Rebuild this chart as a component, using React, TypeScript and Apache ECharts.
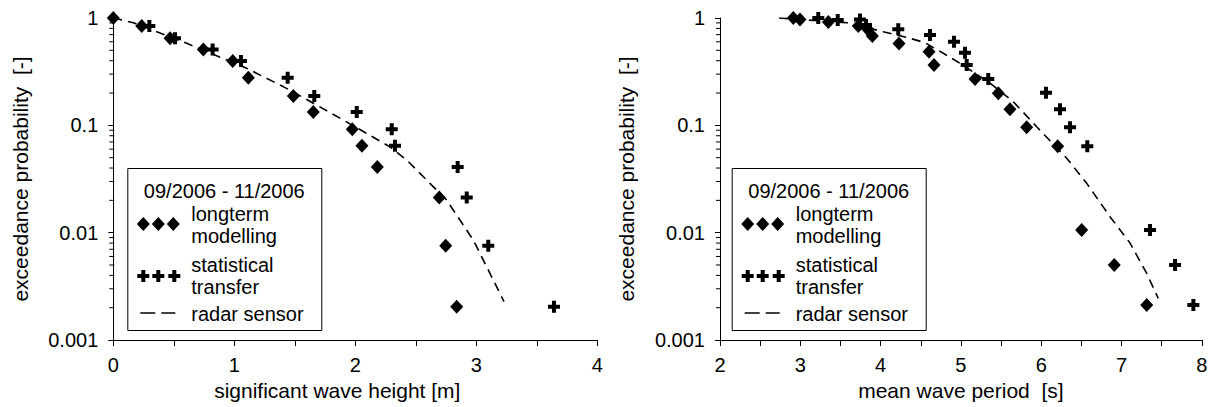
import React, { useEffect, useRef } from "react";
import * as echarts from "echarts";

// ---- data ----
const leftDiamondX = [0, 0.235, 0.469, 0.744, 0.987, 1.116, 1.488, 1.653, 1.975, 2.055, 2.182, 2.694, 2.747, 2.838];
const leftDiamondP = [1, 0.842, 0.647, 0.51, 0.398, 0.278, 0.1875, 0.133, 0.092, 0.0646, 0.041, 0.0213, 0.00756, 0.00204];
const leftCrossX = [0.298, 0.51, 0.821, 1.055, 1.441, 1.661, 2.012, 2.301, 2.328, 2.846, 2.921, 3.099, 3.642];
const leftCrossP = [0.842, 0.647, 0.51, 0.398, 0.278, 0.1875, 0.133, 0.092, 0.0646, 0.041, 0.0213, 0.00756, 0.00204];
const leftRadarX = [0, 0.165, 0.607, 1.102, 1.46, 1.901, 2.287, 2.425, 2.617, 2.755, 2.975, 3.229];
const leftRadarP = [1, 0.904, 0.581, 0.34, 0.213, 0.112, 0.063, 0.0475, 0.0288, 0.0201, 0.00855, 0.00228];

const rightDiamondX = [2.913, 2.996, 3.349, 3.722, 3.839, 3.897, 4.229, 4.603, 4.665, 5.176, 5.466, 5.611, 5.819, 6.205, 6.504, 6.91, 7.314];
const rightDiamondP = [1, 0.97, 0.92, 0.842, 0.785, 0.68, 0.58, 0.485, 0.365, 0.27, 0.199, 0.141, 0.096, 0.064, 0.0106, 0.005, 0.00212];
const rightCrossX = [3.224, 3.466, 3.743, 3.818, 4.22, 4.615, 4.914, 5.051, 5.072, 5.341, 6.06, 6.234, 6.359, 6.574, 7.355, 7.667, 7.895];
const rightCrossP = [1, 0.96, 0.97, 0.86, 0.785, 0.695, 0.6, 0.475, 0.365, 0.27, 0.201, 0.141, 0.096, 0.064, 0.0106, 0.005, 0.00212];
const rightRadarX = [2.735, 3.578, 4.034, 4.325, 4.553, 4.781, 4.989, 5.362, 5.653, 5.944, 6.318, 6.567, 6.857, 7.106, 7.314, 7.458];
const rightRadarP = [1, 0.904, 0.745, 0.66, 0.589, 0.469, 0.378, 0.247, 0.166, 0.097, 0.0493, 0.0288, 0.0141, 0.008, 0.00417, 0.00244];

const yTickVals = [0.001, 0.01, 0.1, 1];
const yTickLabels = ["0.001", "0.01", "0.1", "1"];
const yMinorMultipliers = [2, 3, 4, 5, 6, 7, 8, 9];
const leftXTicks = [0, 1, 2, 3, 4];
const rightXTicks = [2, 3, 4, 5, 6, 7, 8];

const legendTitle = "09/2006 - 11/2006";
const legendNames = [["longterm", "modelling"], ["statistical", "transfer"], ["radar sensor"]];
const xNames = ["significant wave height [m]", "mean wave period  [s]"];
const yName = "exceedance probability  [-]";

const FONT = "'Liberation Sans', Arial, sans-serif";
const FS = 20;
const FS_NAME = 21;

const pair = (xs: number[], ys: number[]) => xs.map((x, i) => [x, ys[i]]);

const minorVals: number[] = [];
yTickVals.slice(0, 3).forEach((d) => yMinorMultipliers.forEach((m) => minorVals.push(d * m)));

const PLUS = "path://M4,0H8V4H12V8H8V12H4V8H0V4H4Z";

function legendGroup(x0: number) {
  const top = 168;
  const txt = (x: number, y: number, text: string, align = "left") => ({
    type: "text",
    x,
    y,
    style: { text, fontSize: FS, fontFamily: FONT, fill: "#000", align, verticalAlign: "middle" },
  });
  const dia = (cx: number, cy: number) => ({
    type: "polygon",
    shape: { points: [[cx, cy - 7], [cx + 6.5, cy], [cx, cy + 7], [cx - 6.5, cy]] },
    style: { fill: "#000" },
  });
  const plus = (cx: number, cy: number) => ({
    type: "polygon",
    shape: {
      points: [
        [cx - 2, cy - 6], [cx + 2, cy - 6], [cx + 2, cy - 2], [cx + 6, cy - 2], [cx + 6, cy + 2], [cx + 2, cy + 2],
        [cx + 2, cy + 6], [cx - 2, cy + 6], [cx - 2, cy + 2], [cx - 6, cy + 2], [cx - 6, cy - 2], [cx - 2, cy - 2],
      ],
    },
    style: { fill: "#000" },
  });
  const tx = x0 + 64;
  return {
    type: "group",
    children: [
      { type: "rect", shape: { x: x0 + 0.5, y: top + 0.5, width: 194, height: 162 }, style: { fill: "#fff", stroke: "#000", lineWidth: 1 } },
      txt(x0 + 97, 191, legendTitle, "center"),
      dia(x0 + 16, 224), dia(x0 + 31, 224), dia(x0 + 46, 224),
      txt(tx, 214, legendNames[0][0]), txt(tx, 236, legendNames[0][1]),
      plus(x0 + 16, 276), plus(x0 + 31, 276), plus(x0 + 47, 276),
      txt(tx, 265, legendNames[1][0]), txt(tx, 287, legendNames[1][1]),
      { type: "line", shape: { x1: x0 + 13, y1: 313, x2: x0 + 28, y2: 313 }, style: { stroke: "#000", lineWidth: 1.5 } },
      { type: "line", shape: { x1: x0 + 34, y1: 313, x2: x0 + 48, y2: 313 }, style: { stroke: "#000", lineWidth: 1.5 } },
      txt(tx, 314, legendNames[2][0]),
    ],
  };
}

export default function App() {
  const ref = useRef<HTMLDivElement>(null);
  useEffect(() => {
    if (!ref.current) return;
    const chart = echarts.init(ref.current, undefined, { renderer: "svg" });
    const axisLine = { lineStyle: { color: "#000", width: 1 } };
    const xAxis = (gi: number, min: number, max: number, ticks: number[], shift: number) => ({
      type: "value",
      gridIndex: gi,
      min,
      max,
      interval: 0.5,
      name: xNames[gi],
      nameLocation: "middle",
      nameGap: 33,
      nameTextStyle: {
        fontSize: FS_NAME,
        fontFamily: FONT,
        color: "#000",
        padding: shift > 0 ? [0, shift, 0, 0] : 0,
      },
      axisLine,
      axisTick: { show: true, length: 6, inside: false, lineStyle: { color: "#000" } },
      axisLabel: {
        fontSize: FS,
        fontFamily: FONT,
        color: "#000",
        margin: 15,
        formatter: (v: number) => (ticks.indexOf(v) >= 0 ? String(v) : ""),
      },
      splitLine: { show: false },
    });
    const yAxis = (gi: number, gap: number) => ({
      type: "log",
      logBase: 10,
      gridIndex: gi,
      min: 0.001,
      max: 1,
      splitNumber: 3,
      name: yName,
      nameLocation: "middle",
      nameGap: gap,
      nameTextStyle: { fontSize: FS_NAME, fontFamily: FONT, color: "#000" },
      axisLine,
      axisTick: { show: true, length: 5, inside: false, lineStyle: { color: "#000" } },
      axisLabel: {
        fontSize: FS,
        fontFamily: FONT,
        color: "#000",
        margin: 15,
        formatter: (v: number) => {
          const i = yTickVals.findIndex((t) => Math.abs(Math.log10(t) - Math.log10(v)) < 1e-6);
          return i >= 0 ? yTickLabels[i] : "";
        },
      },
      splitLine: { show: false },
    });
    const minorSeries = (gi: number, xMin: number) => ({
      type: "custom",
      xAxisIndex: gi,
      yAxisIndex: gi,
      clip: false,
      silent: true,
      data: minorVals.map((v) => [xMin, v]),
      renderItem: (params: any, api: any) => {
        const p = api.coord([api.value(0), api.value(1)]);
        return {
          type: "line",
          shape: { x1: p[0] - 4, y1: p[1], x2: p[0] + 1, y2: p[1] },
          style: { stroke: "#000", lineWidth: 1 },
        };
      },
    });
    const dataSeries = (gi: number, dX: number[], dP: number[], cX: number[], cP: number[], rX: number[], rP: number[]) => [
      {
        type: "line",
        xAxisIndex: gi,
        yAxisIndex: gi,
        data: pair(rX, rP),
        showSymbol: false,
        symbol: "none",
        lineStyle: { color: "#000", width: 1.6, type: [9, 6] },
        z: 2,
      },
      {
        type: "scatter",
        xAxisIndex: gi,
        yAxisIndex: gi,
        data: pair(dX, dP),
        symbol: "diamond",
        symbolSize: [13, 14],
        itemStyle: { color: "#000", opacity: 1 },
        z: 3,
      },
      {
        type: "scatter",
        xAxisIndex: gi,
        yAxisIndex: gi,
        data: pair(cX, cP),
        symbol: PLUS,
        symbolSize: 12,
        itemStyle: { color: "#000", opacity: 1 },
        z: 3,
      },
    ];
    chart.setOption({
      animation: false,
      backgroundColor: "#fff",
      textStyle: { fontFamily: FONT },
      grid: [
        { left: 113.3, top: 18, width: 484, height: 322 },
        { left: 720, top: 18, width: 481.8, height: 322 },
      ],
      xAxis: [xAxis(0, 0, 4, leftXTicks, 36), xAxis(1, 2, 8, rightXTicks, 0)],
      yAxis: [yAxis(0, 82), yAxis(1, 83)],
      series: [
        minorSeries(0, 0),
        minorSeries(1, 2),
        ...dataSeries(0, leftDiamondX, leftDiamondP, leftCrossX, leftCrossP, leftRadarX, leftRadarP),
        ...dataSeries(1, rightDiamondX, rightDiamondP, rightCrossX, rightCrossP, rightRadarX, rightRadarP),
      ],
      graphic: [legendGroup(127.3), legendGroup(731.7)],
    });
    return () => chart.dispose();
  }, []);
  return <div ref={ref} style={{ position: "fixed", left: 0, top: 0, width: 1216, height: 407, background: "#fff" }} />;
}
